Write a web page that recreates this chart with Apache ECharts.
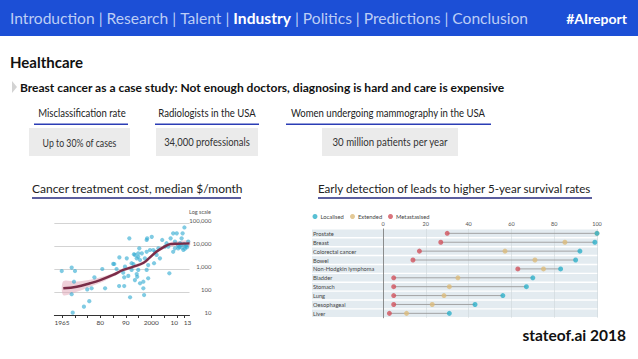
<!DOCTYPE html>
<html>
<head>
<meta charset="utf-8">
<script src="https://cdn.jsdelivr.net/npm/echarts@6/dist/echarts.min.js"></script>
<style>
html,body{margin:0;padding:0;background:#fff;}
#c{width:638px;height:359px;}
</style>
</head>
<body>
<div id="c"></div>
<script>
// ---------- Data ----------
const navItems = ['Introduction','Research','Talent','Industry','Politics','Predictions','Conclusion'];
const activeNav = 'Industry';
const statLabels = ['Misclassification rate','Radiologists in the USA','Women undergoing mammography in the USA'];
const statValues = ['Up to 30% of cases','34,000 professionals','30 million patients per year'];

// Cancer treatment cost, median $/month (year, $)
const costPoints = [
 [1964.9,815],[1968.8,1150],[1970.1,815],[1969.7,280],[1968.8,80],[1969.2,12.6],[1973.6,23],[1975.7,40],
 [1974.9,130],[1976.6,145],[1977.7,435],[1980.8,1000],[1981.9,145],[1985.1,1660],[1986.4,1000],[1987.5,3200],
 [1989,690],[1989.4,435],[1989.4,182],[1990.4,2900],[1991.7,59],[1991.4,21500],[1993,1650],[1993.6,4100],
 [1994.3,600],[1994.5,460],[1994.9,910],[1995.3,7900],[1995.6,2450],[1996.3,4800],[1996.9,280],[1996.9,145],
 [1997.2,74],[1998.2,18300],[1998.2,5600],[1998.8,395],[2000.2,25000],[2000.8,6700],[2001.1,1780],[2002.1,4100],
 [2002.8,7900],[2003.4,2900],[2004.3,18300],[2005.4,9400],[2007.1,650],[2007.6,21500],[2008.6,35600],[2009.3,15500],
 [2010,35600],[2010.6,7900],[2012.3,35600],[2013,64000],[2011.3,13200],[2012.6,6700],[2013.9,11000],[2014.5,15500],
 [2011.9,21500],[2008.6,5600],[2006.7,9400],[2009.3,7900],[2006,13200],[1994.9,4800],[1994.3,2900],[1993.6,330],
 [1992.3,910],[1987.4,182],[1991,500],[1995.6,240],[1998.2,910],[1998.8,1480],[1985.5,1650],[1993.2,4400],
 [1994.9,3400],[1998.4,21500],[1999.5,6700],[2001.5,5600],[1997.5,2900],[1992.3,1780],[1989.7,1260],
 [2011,9000],[2012,8500],[2013.5,9500],[2012.8,12000],[2010.5,10500],[2014,8800],[2013.2,7600],[2011.6,11500]
];
const trendYears  = [1965.5,1970.8,1976,1980,1985,1989,1993,1997,1999.5,2002,2004.7,2007.4,2010,2015];
const trendValues = [145,170,240,330,550,910,1260,1860,3200,5600,8700,12000,12600,13000];
const bandUpper   = [290,283,340,435,660,1090,1510,2230,3840,6700,10400,14400,15900,17300];
const bandLower   = [73,102,170,250,458,760,1050,1550,2670,4670,7250,10000,10000,9770];
const costTickYears  = [1965,1970,1975,1980,1985,1990,1995,2000,2005,2010,2013];
const costLabelYears = [1965,1980,1990,2000,2010,2013];
const costLabelText  = {1965:'1965',1980:'80',1990:'90',2000:'2000',2010:'{l|10}',2013:'{r|13}'};

// Early detection: 5-year survival rates (%)
const cancers = ['Prostate','Breast','Colorectal cancer','Bowel','Non-Hodgkin lymphoma','Bladder','Stomach','Lung','Oesophageal','Liver'];
const localised    = [100,99,92,90,83,70,67,56,43,31];
const extended     = [100,85,57,71,75,35,31,28.5,23,11];
const metastasised = [30,27,17,14,63,5,5,5,5,3];
const stageNames = ['Localised','Extended','Metastasised'];

// ---------- Chart ----------
const chart = echarts.init(document.getElementById('c'), null, {renderer:'svg'});
const FF = 'Lato, "Open Sans", sans-serif';
const navRich = {n:{fill:'#bccdf5',fontSize:15.6,fontFamily:FF}, b:{fill:'#ffffff',fontSize:15.6,fontWeight:'bold',fontFamily:FF}};
const navText = navItems.map(s => s===activeNav ? '{b|'+s+'}' : '{n|'+s+'}').join('{n| | }');

const statLayout = [
  {cx:82, ux:[34,128], box:[29,101], sx:0.76},
  {cx:207, ux:[155,259], box:[156,102], sx:0.82},
  {cx:388, ux:[286,491], box:[322,136], sx:0.84}
];
const graphics = [
  {type:'rect', shape:{x:0,y:0,width:638,height:36}, style:{fill:'#1c4fd6'}},
  {type:'text', x:10, y:18, style:{text:navText, rich:navRich, verticalAlign:'middle', align:'left'}},
  {type:'text', x:627, y:18, style:{text:'#AIreport', fill:'#fff', fontSize:14, fontWeight:'bold', fontFamily:FF, align:'right', verticalAlign:'middle'}},
  {type:'text', x:10, y:62, style:{text:'Healthcare', fill:'#111', fontSize:15, fontWeight:'bold', fontFamily:FF, verticalAlign:'middle'}},
  {type:'polygon', shape:{points:[[12,81],[17,87],[12,93]]}, style:{fill:'#d3d3d3'}},
  {type:'text', x:20, y:87, style:{text:'Breast cancer as a case study: Not enough doctors, diagnosing is hard and care is expensive', fill:'#111', fontSize:12, fontWeight:'bold', fontFamily:FF, verticalAlign:'middle'}},
  {type:'text', x:32, y:188, style:{text:'Cancer treatment cost, median $/month', fill:'#222', fontSize:12, fontFamily:FF, verticalAlign:'middle'}},
  {type:'rect', shape:{x:32,y:197,width:209,height:2}, style:{fill:'#5b5e9e'}},
  {type:'text', x:318, y:188, scaleX:0.965, style:{text:'Early detection of leads to higher 5-year survival rates', fill:'#222', fontSize:12, fontFamily:FF, verticalAlign:'middle'}},
  {type:'rect', shape:{x:318,y:197,width:274,height:2}, style:{fill:'#5b5e9e'}},
  {type:'text', x:211, y:212, style:{text:'Log scale', fill:'#555', fontSize:5.5, fontFamily:FF, align:'right', verticalAlign:'middle'}},
  {type:'text', x:626, y:335, style:{text:'stateof.ai 2018', fill:'#111', fontSize:15.5, fontWeight:'bold', fontFamily:FF, align:'right', verticalAlign:'middle'}}
];
statLabels.forEach((s,i)=>{
  const L = statLayout[i];
  graphics.push({type:'text', x:L.cx, y:113, scaleX:0.83, style:{text:s, fill:'#222', fontSize:11.5, fontFamily:FF, align:'center', verticalAlign:'middle'}});
  graphics.push({type:'rect', shape:{x:L.ux[0], y:123.5, width:L.ux[1]-L.ux[0], height:1.6}, style:{fill:'#2b3db5'}});
  graphics.push({type:'rect', shape:{x:L.box[0], y:128, width:L.box[1], height:28}, style:{fill:'#ebebeb'}});
  graphics.push({type:'text', x:L.box[0]+L.box[1]/2, y:142, scaleX:L.sx, style:{text:statValues[i], fill:'#333', fontSize:11.5, fontFamily:FF, align:'center', verticalAlign:'middle'}});
});

const loc = '#2eb0c9', ext = '#dcbb7c', met = '#d1525d';
const legendLefts = [312.5, 350, 388];

chart.setOption({
  animation:false,
  textStyle:{fontFamily:FF},
  graphic: graphics,
  legend: stageNames.map((n,i)=>({
    data:[n], left:legendLefts[i], top:213.5, padding:0, icon:'circle', itemWidth:5, itemHeight:5, itemGap:0,
    textStyle:{fontSize:5.8, color:'#444', fontFamily:FF, padding:[0,0,0,-2]}
  })),
  grid:[
    {left:54.35, top:223, width:135.15, height:92},
    {left:383, top:228.9, width:214, height:88.9}
  ],
  xAxis:[
    {gridIndex:0, type:'value', min:1962, max:2015,
     axisLine:{show:true, lineStyle:{color:'#333', width:1}},
     axisTick:{show:true, customValues:costTickYears, length:3, lineStyle:{color:'#333'}},
     axisLabel:{customValues:costLabelYears, hideOverlap:false, formatter:v=>costLabelText[v]||'', fontSize:6.5, color:'#444', margin:4,
       rich:{l:{fontSize:6.5, color:'#444', padding:[0,5,0,0]}, r:{fontSize:6.5, color:'#444', padding:[0,0,0,6]}}},
     splitLine:{show:false}},
    {gridIndex:1, type:'value', min:0, max:100, interval:20, position:'top',
     axisLine:{show:false}, axisTick:{show:false},
     axisLabel:{fontSize:5.5, color:'#555', margin:1.5},
     splitLine:{show:true, lineStyle:{color:'#cfd6da', width:0.6}}}
  ],
  yAxis:[
    {gridIndex:0, type:'log', logBase:10, min:10, max:100000, position:'right',
     axisLine:{show:false}, axisTick:{show:false},
     axisLabel:{fontSize:6, color:'#555', align:'right', margin:22, verticalAlign:'bottom',
       formatter:v=>Number(v).toLocaleString('en-US')},
     splitLine:{show:true, lineStyle:{color:'#c8c8c8', width:0.8}}},
    {gridIndex:1, type:'category', data:cancers, inverse:true,
     axisLine:{show:true, lineStyle:{color:'#777', width:0.8}}, axisTick:{show:false},
     axisLabel:{fontSize:5.7, color:'#444', align:'left', margin:70},
     splitLine:{show:false}}
  ],
  series:[
    {type:'custom', xAxisIndex:0, yAxisIndex:0, silent:true, z:1,
     data:[0],
     renderItem:(params, api)=>{
       const pts = [];
       for (let i=0;i<trendYears.length;i++) pts.push(api.coord([trendYears[i], bandUpper[i]]));
       for (let i=trendYears.length-1;i>=0;i--) pts.push(api.coord([trendYears[i], bandLower[i]]));
       return {type:'polygon', shape:{points:pts, smooth:0.3}, style:{fill:'rgba(226,170,185,0.55)'}};
     }},
    {type:'scatter', xAxisIndex:0, yAxisIndex:0, data:costPoints, symbolSize:4.2,
     itemStyle:{color:'rgba(52,172,210,0.78)'}, z:2},
    {type:'line', xAxisIndex:0, yAxisIndex:0, data:trendYears.map((y,i)=>[y,trendValues[i]]),
     smooth:0.4, showSymbol:false, lineStyle:{color:'#7a2c48', width:2.4}, z:3},
    {type:'custom', xAxisIndex:1, yAxisIndex:1, silent:true, z:-1,
     data:cancers.map((c,i)=>[0,i]),
     renderItem:(params, api)=>{
       const c0 = api.coord([0, api.value(1)]);
       const c1 = api.coord([100, api.value(1)]);
       const h = api.size([0,1])[1];
       return {type:'rect', shape:{x:c0[0]-71, y:c0[1]-h/2+0.7, width:c1[0]-c0[0]+72, height:h-1.4}, style:{fill:'#e3ebf0'}};
     }},
    {type:'custom', xAxisIndex:1, yAxisIndex:1, silent:true, z:2,
     data:cancers.map((c,i)=>[Math.min(localised[i],extended[i],metastasised[i]), i, Math.max(localised[i],extended[i],metastasised[i])]),
     renderItem:(params, api)=>{
       const a = api.coord([api.value(0), api.value(1)]);
       const b = api.coord([api.value(2), api.value(1)]);
       return {type:'line', shape:{x1:a[0],y1:a[1],x2:b[0],y2:b[1]}, style:{stroke:'#9c9c9c', lineWidth:0.9}};
     }},
    {name:'Metastasised', type:'scatter', xAxisIndex:1, yAxisIndex:1, data:metastasised.map((v,i)=>[v,i]), symbolSize:5, itemStyle:{color:met}, z:3},
    {name:'Extended', type:'scatter', xAxisIndex:1, yAxisIndex:1, data:extended.map((v,i)=>[v,i]), symbolSize:5, itemStyle:{color:ext}, z:3},
    {name:'Localised', type:'scatter', xAxisIndex:1, yAxisIndex:1, data:localised.map((v,i)=>[v,i]), symbolSize:5, itemStyle:{color:loc, opacity:0.8}, z:4}
  ]
});
</script>
</body>
</html>
